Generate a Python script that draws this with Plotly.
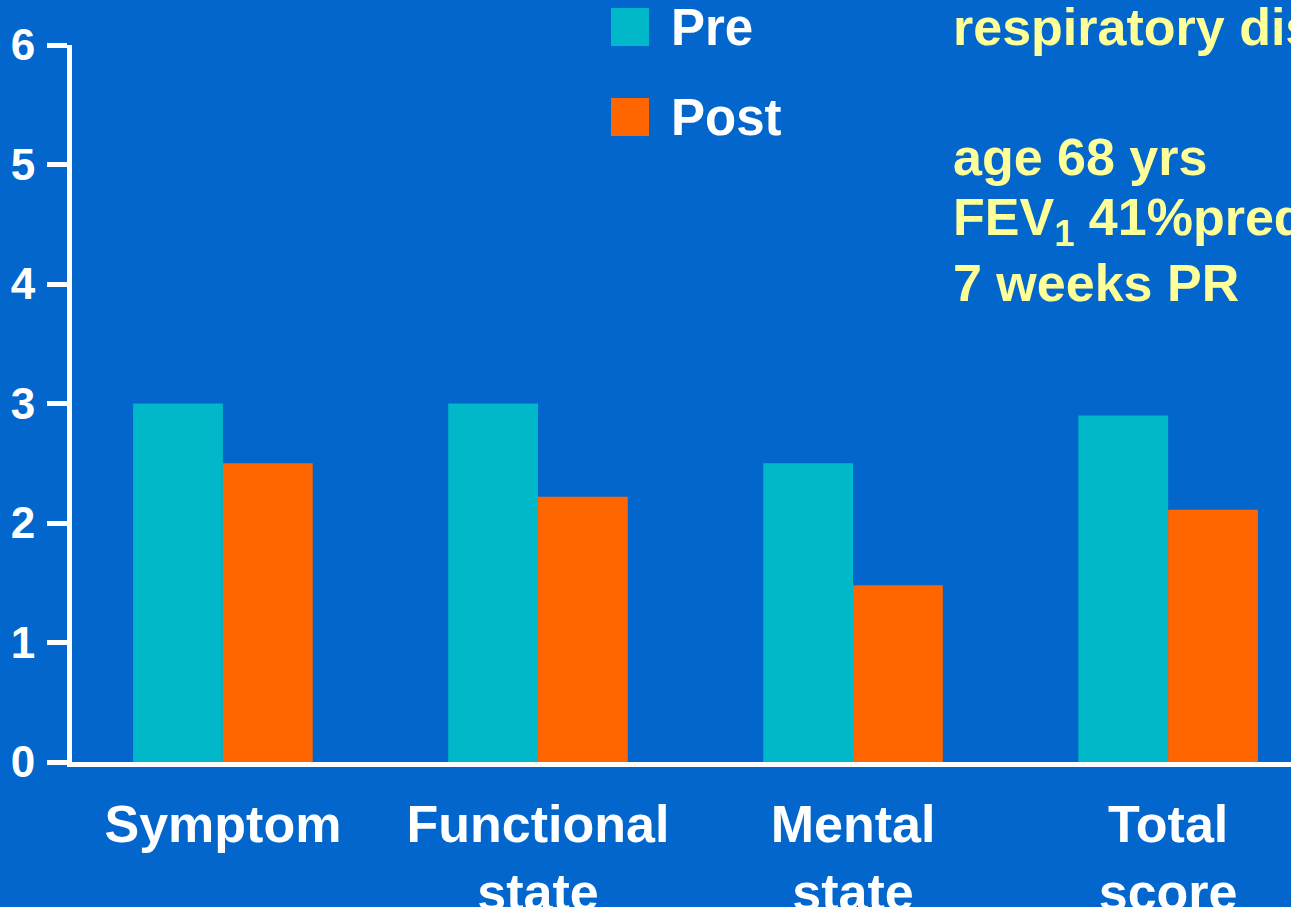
import plotly.graph_objects as go

categories = ["Symptom", "Functional<br>state", "Mental<br>state", "Total<br>score"]
pre_values = [3.0, 3.0, 2.5, 2.9]
post_values = [2.5, 2.22, 1.48, 2.11]
y_ticks = [0, 1, 2, 3, 4, 5, 6]
series_names = ["Pre", "Post"]
info_lines = ["respiratory disease", "age 68 yrs", "FEV<sub>1</sub> 41%pred", "7 weeks PR"]

BG = "#0266CC"
TEAL = "#00B8C8"
ORANGE = "#FF6600"
YELLOW = "#FFFF99"
ARIAL = "Liberation Sans, Arial, Helvetica, sans-serif"

W, H = 1291, 907
L, R, T, B = 72, 0, 45, 145
plot_w = W - L - R
plot_h = H - T - B

def px_x(p):
    return (p - L) / plot_w

def px_y(p):
    return (H - B - p) / plot_h

fig = go.Figure()
fig.add_trace(go.Bar(x=categories, y=pre_values, name=series_names[0],
                     marker=dict(color=TEAL, line=dict(width=0)), showlegend=False))
fig.add_trace(go.Bar(x=categories, y=post_values, name=series_names[1],
                     marker=dict(color=ORANGE, line=dict(width=0)), showlegend=False))

fig.update_layout(
    width=W, height=H,
    margin=dict(l=L, r=R, t=T, b=B, pad=0, autoexpand=False),
    paper_bgcolor=BG, plot_bgcolor=BG,
    barmode="group", bargap=0.43, bargroupgap=0,
    showlegend=False,
)
fig.update_xaxes(
    type="category", range=[-0.479, 3.39], automargin=False,
    showline=True, linecolor="white", linewidth=5,
    showgrid=False, zeroline=False, ticks="",
    tickfont=dict(family=ARIAL, size=52, color="white", weight="bold"),
    ticklabelstandoff=13,
)
fig.update_yaxes(
    range=[0, 6], tickvals=y_ticks, ticktext=[str(v) for v in y_ticks],
    automargin=False,
    showline=True, linecolor="white", linewidth=5,
    showgrid=False, zeroline=False,
    ticks="outside", ticklen=20, tickwidth=5, tickcolor="white",
    tickfont=dict(family=ARIAL, size=44, color="white", weight="bold"),
    ticklabelstandoff=3,
)

# manual legend
legend_colors = [TEAL, ORANGE]
legend_tops = [8, 98]
for name, col, top in zip(series_names, legend_colors, legend_tops):
    fig.add_shape(type="rect", xref="paper", yref="paper",
                  x0=px_x(611), x1=px_x(649), y0=px_y(top + 38), y1=px_y(top),
                  fillcolor=col, line=dict(width=0))
    fig.add_annotation(xref="paper", yref="paper", x=px_x(669), y=px_y(top + 19),
                       text=name, showarrow=False, xanchor="left", yanchor="middle",
                       font=dict(family=ARIAL, size=51, color="white", weight="bold"))

# info text
info_baselines = [45, 175, 239, 301]
for line, base in zip(info_lines, info_baselines):
    fig.add_annotation(xref="paper", yref="paper", x=px_x(951), y=px_y(base - 18),
                       text=line, showarrow=False, xanchor="left", yanchor="middle",
                       align="left",
                       font=dict(family=ARIAL, size=52, color=YELLOW, weight="bold"))

fig.write_html("out.html")
